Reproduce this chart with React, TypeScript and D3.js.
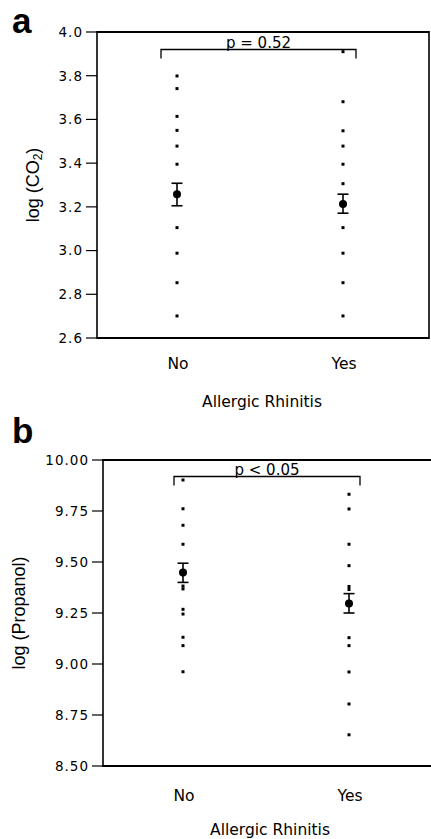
import React from "react";
import * as d3 from "d3";

// ==== DATA ====
const CATEGORIES = ["No", "Yes"];

// panel a: log(CO2)
const CO2_NO = [3.799, 3.741, 3.614, 3.55, 3.478, 3.395, 3.105, 2.988, 2.853, 2.701];
const CO2_YES = [3.91, 3.681, 3.548, 3.478, 3.395, 3.306, 3.105, 2.988, 2.853, 2.701];
const CO2_MEAN = [3.258, 3.213];
const CO2_LOW = [3.205, 3.171];
const CO2_HIGH = [3.308, 3.258];
const CO2_TICKS = [2.6, 2.8, 3.0, 3.2, 3.4, 3.6, 3.8, 4.0];

// panel b: log(Propanol)
const PROP_NO = [9.902, 9.761, 9.68, 9.587, 9.382, 9.368, 9.268, 9.245, 9.131, 9.09, 8.962];
const PROP_YES = [9.832, 9.76, 9.587, 9.482, 9.38, 9.365, 9.129, 9.09, 8.961, 8.804, 8.653];
const PROP_MEAN = [9.449, 9.297];
const PROP_LOW = [9.4, 9.25];
const PROP_HIGH = [9.494, 9.345];
const PROP_TICKS = [8.5, 8.75, 9.0, 9.25, 9.5, 9.75, 10.0];

const TICK_FONT = "'DejaVu Sans', Verdana, sans-serif";

type PanelProps = {
  letter: string;
  letterY: number;
  top: number;
  bottom: number;
  left: number;
  right: number;
  frameRight: boolean;
  domain: [number, number];
  ticks: number[];
  tickFmt: (v: number) => string;
  catRange: [number, number];
  groups: number[][];
  means: number[];
  lows: number[];
  highs: number[];
  pText: string;
  bracket: { x0: number; x1: number; y: number };
  yTitle: React.ReactNode;
  yTitleX: number;
  catY: number;
  titleY: number;
  titleX: number;
};

function Panel(p: PanelProps) {
  const y = d3.scaleLinear().domain(p.domain).range([p.bottom, p.top]);
  const x = d3.scalePoint<string>().domain(CATEGORIES).range(p.catRange).padding(0.5);
  const midY = (p.top + p.bottom) / 2;

  return (
    <g>
      <text x={12} y={p.letterY} fontFamily="'Liberation Sans', Arial, sans-serif"
        fontWeight="bold" fontSize={35}>{p.letter}</text>

      {/* frame */}
      <line x1={p.left} x2={p.right} y1={p.top} y2={p.top} stroke="#000" strokeWidth={1.8} />
      <line x1={p.left} x2={p.right} y1={p.bottom} y2={p.bottom} stroke="#000" strokeWidth={1.8} />
      <line x1={p.left} x2={p.left} y1={p.top - 0.9} y2={p.bottom + 0.9} stroke="#000" strokeWidth={1.6} />
      {p.frameRight && (
        <line x1={p.right} x2={p.right} y1={p.top - 0.9} y2={p.bottom + 0.9} stroke="#000" strokeWidth={1.6} />
      )}

      {/* y ticks */}
      {p.ticks.map((t) => (
        <g key={t} transform={`translate(0,${y(t)})`}>
          <line x1={p.left - 11} x2={p.left} stroke="#000" strokeWidth={1.2} />
          <text x={p.left - 14} dy="0.36em" textAnchor="end" fontFamily={TICK_FONT}
            fontSize={13.5} letterSpacing={1}>{p.tickFmt(t)}</text>
        </g>
      ))}

      {/* raw points */}
      {p.groups.map((vals, gi) =>
        vals.map((v, i) => (
          <rect key={`${gi}-${i}`} x={x(CATEGORIES[gi])! - 1.5} y={y(v) - 1.5}
            width={3} height={3} fill="#000" />
        ))
      )}

      {/* mean and error bars */}
      {p.means.map((m, gi) => {
        const cx = x(CATEGORIES[gi])!;
        return (
          <g key={`m${gi}`} stroke="#000" strokeWidth={1.6}>
            <line x1={cx} x2={cx} y1={y(p.highs[gi])} y2={y(p.lows[gi])} />
            <line x1={cx - 5.5} x2={cx + 5.5} y1={y(p.highs[gi])} y2={y(p.highs[gi])} />
            <line x1={cx - 5.5} x2={cx + 5.5} y1={y(p.lows[gi])} y2={y(p.lows[gi])} />
            <circle cx={cx} cy={y(m)} r={4} fill="#000" stroke="none" />
          </g>
        );
      })}

      {/* significance bracket */}
      <path d={`M${p.bracket.x0},${p.bracket.y + 9}V${p.bracket.y}H${p.bracket.x1}V${p.bracket.y + 9}`}
        fill="none" stroke="#000" strokeWidth={1.3} />
      <text x={(p.bracket.x0 + p.bracket.x1) / 2} y={p.bracket.y - 1.5} textAnchor="middle"
        fontFamily={TICK_FONT} fontSize={15}>{p.pText}</text>

      {/* category labels */}
      {CATEGORIES.map((c) => (
        <text key={c} x={x(c)! + 1} y={p.catY} textAnchor="middle" fontFamily={TICK_FONT}
          fontSize={15.5}>{c}</text>
      ))}
      <text x={p.titleX} y={p.titleY} textAnchor="middle" fontFamily={TICK_FONT}
        fontSize={15.5}>Allergic Rhinitis</text>

      <text transform={`translate(${p.yTitleX},${midY}) rotate(-90)`} textAnchor="middle"
        fontFamily="'Liberation Sans', Arial, sans-serif" fontSize={18}>{p.yTitle}</text>
    </g>
  );
}

export default function App() {
  return (
    <svg width={431} height={839} style={{ position: "absolute", left: 0, top: 0, background: "#fff" }}>
      <Panel
        letter="a" letterY={33}
        top={32} bottom={338} left={97} right={429} frameRight={true}
        domain={[2.6, 4.0]} ticks={CO2_TICKS} tickFmt={d3.format(".1f")}
        catRange={[94, 426]}
        groups={[CO2_NO, CO2_YES]} means={CO2_MEAN} lows={CO2_LOW} highs={CO2_HIGH}
        pText="p = 0.52" bracket={{ x0: 161, x1: 356, y: 49.5 }}
        yTitle={<>log (CO<tspan fontSize={12} dy={3}>2</tspan><tspan dy={-3}>)</tspan></>}
        yTitleX={39}
        catY={369} titleX={262} titleY={407}
      />
      <Panel
        letter="b" letterY={443}
        top={460} bottom={766} left={103} right={431} frameRight={false}
        domain={[8.5, 10.0]} ticks={PROP_TICKS} tickFmt={d3.format(".2f")}
        catRange={[100, 432]}
        groups={[PROP_NO, PROP_YES]} means={PROP_MEAN} lows={PROP_LOW} highs={PROP_HIGH}
        pText="p < 0.05" bracket={{ x0: 174, x1: 360, y: 476.5 }}
        yTitle="log (Propanol)"
        yTitleX={25}
        catY={801} titleX={270} titleY={835}
      />
    </svg>
  );
}
